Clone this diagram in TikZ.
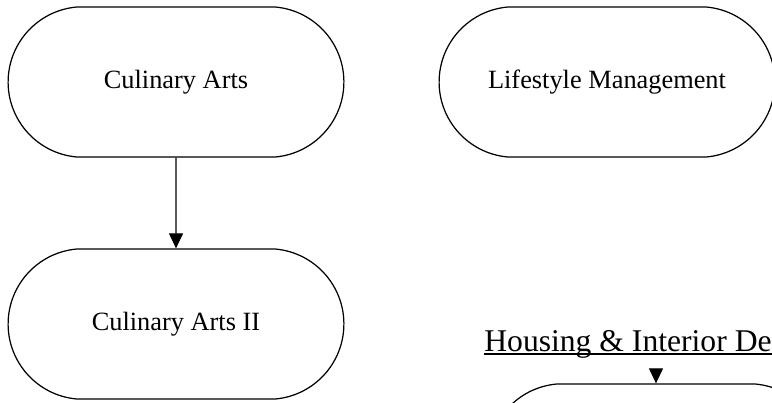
\documentclass[tikz,border=0pt]{standalone}
\usepackage{fontspec}
\setmainfont{Liberation Serif}
\usetikzlibrary{arrows.meta, shapes.misc}

\tikzset{
    course/.style={draw, rounded rectangle, rounded rectangle arc length=170, line width=0.7pt, minimum width=6.95cm, minimum height=3cm, font=\fontsize{15}{18}\selectfont},
    arrowtip/.style={line width=0.6pt, -{Triangle[width=0.28cm, length=0.3cm]}}
}

\begin{document}
\begin{tikzpicture}
        \useasboundingbox (0, 0) rectangle (15.44, 8.04);
        \clip (0, 0) rectangle (15.44, 8.04);

        \node (ca) at (3.52, 6.4) [course] {Culinary Arts};
        \node (lm) at (12.14, 6.4) [course] {Lifestyle Management};
        \node (ca2) at (3.52, 1.56) [course] {Culinary Arts II};

        \node (hid) at (9.68, 1.02) [anchor=base west, inner sep=0pt, font=\fontsize{18}{21}\selectfont] {Housing \& Interior De};
        \draw[line width=0.7pt] ([yshift=-0.06cm]hid.base west) -- ([yshift=-0.06cm, xshift=0.3cm]hid.base east);

        \coordinate (hidt) at (13.12, 0.64);
        \node (hidb) at (13.12, -1.14) [course] {};

        \draw[arrowtip] (ca) -- (ca2);
        \draw[arrowtip] (hidt) -- (hidb);
    \end{tikzpicture}
\end{document}
